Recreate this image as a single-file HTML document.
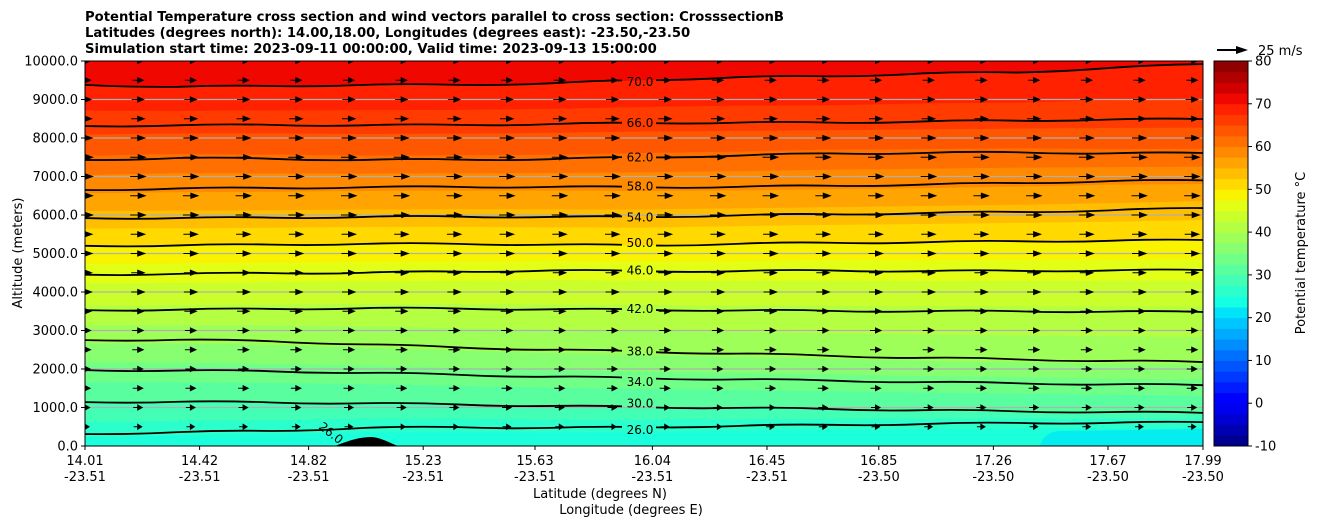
<!DOCTYPE html>
<html><head><meta charset="utf-8"><style>
body{margin:0;background:#fff;}
svg text{font-family:"DejaVu Sans","Liberation Sans",sans-serif;}
</style></head><body>
<svg id="s" width="1320" height="526" xmlns="http://www.w3.org/2000/svg">
<defs><clipPath id="pc"><rect x="85" y="61" width="1118" height="385"/></clipPath>
<mask id="lm"><rect x="0" y="0" width="1320" height="526" fill="#fff"/><g id="maskg"></g></mask></defs>
<g id="fills" clip-path="url(#pc)"></g>
<g id="grid"></g>
<g id="contours" clip-path="url(#pc)" mask="url(#lm)"></g>
<g id="clabels"></g>
<path d="M335,446 C350,440 360,437 372,437 C382,438 390,443 398,446 Z" fill="#000"/>
<g id="arrows" clip-path="url(#pc)"></g>
<g id="axes"></g>
<g id="cbar"></g>
<text x="85" y="21" font-size="13.2" font-weight="bold">Potential Temperature cross section and wind vectors parallel to cross section: CrosssectionB</text>
<text x="85" y="37" font-size="13.2" font-weight="bold">Latitudes (degrees north): 14.00,18.00, Longitudes (degrees east): -23.50,-23.50</text>
<text x="85" y="53" font-size="13.2" font-weight="bold">Simulation start time: 2023-09-11 00:00:00, Valid time: 2023-09-13 15:00:00</text>
<text x="600" y="498" font-size="13" text-anchor="middle">Latitude (degrees N)</text>
<text x="631" y="514" font-size="13" text-anchor="middle">Longitude (degrees E)</text>
<text transform="translate(22,253) rotate(-90)" font-size="13" text-anchor="middle">Altitude (meters)</text>
<text transform="translate(1305,253) rotate(-90)" font-size="13" text-anchor="middle">Potential temperature °C</text>
<line x1="1217" y1="50" x2="1240" y2="50" stroke="#000" stroke-width="2"/>
<path d="M1236,46 L1248,50 L1236,54 Z" fill="#000"/>
<text x="1258" y="55" font-size="13">25 m/s</text>
</svg>
<script>
const levels=[26,30,34,38,42,46,50,54,58,62,66,70];
const alt26=[310,360,390,470,490,470,490,520,550,570,600,600,620];
const alt30=[1140,1150,1130,1110,1080,1040,1010,990,960,930,900,880,860];
const alt34=[1970,1960,1940,1900,1850,1800,1760,1730,1700,1660,1630,1600,1580];
const alt38=[2750,2760,2720,2640,2560,2500,2450,2400,2340,2290,2250,2210,2180];
const alt42=[3530,3540,3560,3580,3570,3550,3540,3520,3510,3500,3500,3490,3480];
const alt46=[4450,4470,4490,4500,4530,4560,4540,4540,4560,4540,4550,4560,4570];
const alt50=[5200,5210,5230,5250,5250,5230,5210,5250,5280,5290,5320,5330,5350];
const alt54=[5920,5920,5930,5950,5960,5950,5950,5990,6020,6050,6080,6120,6180];
const alt58=[6650,6690,6700,6720,6730,6730,6720,6730,6760,6790,6830,6880,6900];
const alt62=[7430,7480,7460,7430,7440,7450,7500,7540,7600,7610,7630,7600,7610];
const alt66=[8310,8330,8340,8330,8340,8360,8390,8400,8400,8430,8450,8480,8490];
const alt70=[9380,9330,9350,9380,9380,9420,9500,9580,9600,9680,9700,9820,9920];
const contourAlts=[alt26,alt30,alt34,alt38,alt42,alt46,alt50,alt54,alt58,alt62,alt66,alt70];
const labelAlt=[420,1110,1660,2450,3560,4560,5270,5930,6740,7500,8390,9450];
const windRowAlts=[500,1000,1500,2000,2500,3000,3500,4000,4500,5000,5500,6000,6500,7000,7500,8000,8500,9000,9500,10000];
const windSpeed=[8,9,10,10,11,11,12,13,13,14,14,15,15,15,15,14,13,12,11,10];
const xTickLat=["14.01","14.42","14.82","15.23","15.63","16.04","16.45","16.85","17.26","17.67","17.99"];
const xTickLon=["-23.51","-23.51","-23.51","-23.51","-23.51","-23.51","-23.51","-23.50","-23.50","-23.50","-23.50"];
const xTickVal=[0,0.1025,0.2,0.3025,0.4025,0.5075,0.61,0.71,0.8125,0.915,1];
const yTicks=[0,1000,2000,3000,4000,5000,6000,7000,8000,9000,10000];
const cbTicks=[-10,0,10,20,30,40,50,60,70,80];

const NS="http://www.w3.org/2000/svg";
const X0=85,X1=1203,Y0=446,Y1=61;
const xs=f=>X0+f*(X1-X0);
const ys=a=>Y0-a*(Y0-Y1)/10000;
const npt=alt26.length;
const px=i=>xs(i/(npt-1));
function mk(t,a,p){const e=document.createElementNS(NS,t);for(const k in a)e.setAttribute(k,a[k]);p.appendChild(e);return e;}
function seg(pts,x){for(let i=0;i<pts.length-1;i++){if(x<=pts[i+1][0]){const [x0,y0]=pts[i],[x1,y1]=pts[i+1];return y0+(y1-y0)*(x-x0)/(x1-x0);}}return pts[pts.length-1][1];}
const JR=[[0,0],[0.35,0],[0.66,1],[0.89,1],[1,0.5]];
const JG=[[0,0],[0.125,0],[0.375,1],[0.64,1],[0.91,0],[1,0]];
const JB=[[0,0.5],[0.11,1],[0.34,1],[0.65,0],[1,0]];
function jet(T){const x=Math.max(0,Math.min(1,(T+10)/90));return `rgb(${Math.round(seg(JR,x)*255)},${Math.round(seg(JG,x)*255)},${Math.round(seg(JB,x)*255)})`;}
function altAt(T,i){
  const L=[22].concat(levels,[74]);
  const A=[0].concat(contourAlts.map(a=>a[i]),[10400]);
  if(T<=L[0])return -100;
  for(let k=0;k<L.length-1;k++){if(T<=L[k+1])return A[k]+(A[k+1]-A[k])*(T-L[k])/(L[k+1]-L[k]);}
  return 11000;
}
const fills=document.getElementById('fills');
const base=mk('rect',{x:X0,y:Y1,width:X1-X0,height:Y0-Y1,fill:jet(24.5)},fills);


const cyanPatch=mk('path',{d:'M1040,446 C1042,438 1048,432 1060,431 L1203,429 L1203,446 Z',fill:jet(22.2)},fills);


for(let T=25;T<80;T+=2.5){
  let d=`M${X0},${Y1-5} L${X1},${Y1-5}`;
  for(let i=npt-1;i>=0;i--)d+=` L${px(i)},${ys(altAt(T,i))}`;
  d+=' Z';
  const p=mk('path',{d:d,fill:jet(T+1.25)},fills);
  
  
}
const grid=document.getElementById('grid');
yTicks.forEach(v=>{if(v>0&&v<10000){const l=mk('line',{x1:X0,x2:X1,y1:ys(v),y2:ys(v),stroke:'#b0b0b0','stroke-width':1.2},grid);

}});
const cg=document.getElementById('contours'),lg=document.getElementById('clabels'),mg=document.getElementById('maskg');
contourAlts.forEach((arr,k)=>{
  let d='';
  for(let i=0;i<npt;i++){const x=px(i),y=ys(arr[i]);
    if(i==0)d=`M${x},${y}`;else{const xm=(px(i-1)+x)/2;const w=(i%2?1.5:-1.5);d+=` Q${xm},${(ys(arr[i-1])+y)/2+w} ${x},${y}`;}}
  const p=mk('path',{d:d,fill:'none',stroke:'#000','stroke-width':1.8},cg);
  
  
  const ly=ys(labelAlt[k]);
  mk('rect',{x:622,y:ly-8,width:34,height:16,fill:'#000'},mg);
  const t=mk('text',{x:640,y:ly+4,'font-size':12,'text-anchor':'middle'},lg);
  t.textContent=levels[k].toFixed(1);
  
  
});
const t26=mk('text',{x:0,y:0,'font-size':12,transform:'translate(318,428) rotate(38)'},lg);
t26.textContent='26.0';


const ag=document.getElementById('arrows');
const colStep=52.7;
windRowAlts.forEach((a,r)=>{const y=ys(a);const L=windSpeed[r];
  for(let x=X0;x<X1+5;x+=colStep){
    const h=Math.min(7,L*0.5);
    const d=`M${x-L/2},${y} L${x+L/2-h},${y} M${x+L/2-h},${y-2.5} L${x+L/2},${y} L${x+L/2-h},${y+2.5} Z`;
    const p=mk('path',{d:d,fill:'#000',stroke:'#000','stroke-width':1},ag);
    
    
  }});
const ax=document.getElementById('axes');
mk('rect',{x:X0,y:Y1,width:X1-X0,height:Y0-Y1,fill:'none',stroke:'#000','stroke-width':1},ax);
yTicks.forEach(v=>{const y=ys(v);mk('line',{x1:X0-4,x2:X0,y1:y,y2:y,stroke:'#000'},ax);
  const t=mk('text',{x:X0-7,y:y+4.5,'font-size':13,'text-anchor':'end'},ax);t.textContent=v.toFixed(1);
  
  });
xTickVal.forEach((f,i)=>{const x=xs(f);mk('line',{x1:x,x2:x,y1:Y0,y2:Y0+4,stroke:'#000'},ax);
  const t=mk('text',{x:x,y:Y0+19,'font-size':13,'text-anchor':'middle'},ax);t.textContent=xTickLat[i];
  
  
  const t2=mk('text',{x:x,y:Y0+35,'font-size':13,'text-anchor':'middle'},ax);t2.textContent=xTickLon[i];
  
  });
const cb=document.getElementById('cbar');
const CX=1214,CW=34,cy=v=>Y0-(v+10)*(Y0-Y1)/90;
for(let v=-10;v<80;v+=2.5){const r=mk('rect',{x:CX,y:cy(v+2.5),width:CW,height:cy(v)-cy(v+2.5)+0.5,fill:jet(v+1.25)},cb);
  
  }
mk('rect',{x:CX,y:Y1,width:CW,height:Y0-Y1,fill:'none',stroke:'#000'},cb);
cbTicks.forEach(v=>{const y=cy(v);mk('line',{x1:CX+CW,x2:CX+CW+4,y1:y,y2:y,stroke:'#000'},cb);
  const t=mk('text',{x:CX+CW+7,y:y+4.5,'font-size':13},cb);t.textContent=v;
  
  });
</script>
</body></html>
